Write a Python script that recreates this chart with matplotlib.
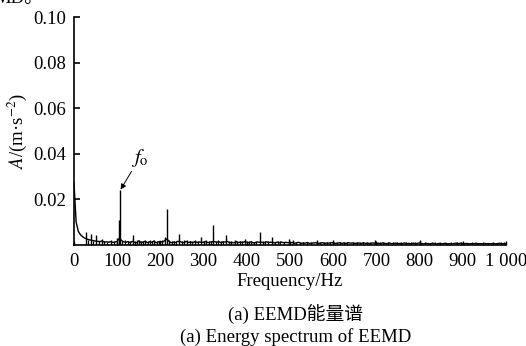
import matplotlib
matplotlib.use("Agg")
import matplotlib.pyplot as plt
import numpy as np

plt.rcParams['font.family'] = ['Liberation Serif', 'Noto Sans CJK SC', 'DejaVu Sans']
plt.rcParams['mathtext.fontset'] = 'stix'
plt.rcParams['font.size'] = 13.5

# Background spectrum, 5 Hz steps, amplitudes in 1e-3 m/s^2 (0,5,...,1000 Hz)
freq_step = 5
base_milli = [
    27.0, 10.0, 6.0, 4.5, 3.6, 3.0, 2.6, 2.3, 2.1, 1.9,     # 0-45
    1.7, 1.6, 1.5, 1.8, 1.3, 1.4, 1.2, 1.5, 1.1, 1.3,       # 50-95
    1.6, 3.0, 2.0, 1.4, 1.2, 1.5, 1.0, 1.6, 1.2, 1.0,       # 100-145
    1.8, 1.1, 1.3, 1.6, 1.0, 1.4, 1.2, 1.7, 1.0, 1.3,       # 150-195
    1.6, 1.2, 2.0, 2.6, 1.6, 1.0, 1.3, 1.1, 1.6, 1.5,       # 200-245
    1.2, 1.0, 1.6, 1.1, 1.4, 1.0, 1.5, 1.1, 1.3, 1.2,       # 250-295
    1.2, 1.6, 1.0, 1.3, 1.4, 1.5, 1.2, 1.5, 1.0, 1.4,       # 300-345
    1.3, 1.6, 1.0, 1.2, 0.9, 1.5, 1.0, 1.3, 1.1, 1.4,       # 350-395
    1.2, 1.0, 1.4, 0.9, 1.1, 1.3, 1.2, 1.2, 1.0, 1.4,       # 400-445
    1.1, 1.2, 1.2, 0.9, 1.3, 1.0, 1.3, 1.0, 1.2, 1.0,       # 450-495
    1.0, 1.1, 0.8, 0.9, 1.2, 0.7, 0.9, 0.8, 1.1, 0.7,       # 500-545
    0.8, 0.9, 1.0, 0.7, 0.8, 1.0, 0.7, 0.9, 0.8, 1.0,       # 550-595
    1.0, 0.7, 0.8, 1.0, 0.7, 0.9, 0.7, 1.0, 0.8, 0.9,       # 600-645
    0.7, 0.8, 0.9, 0.6, 1.0, 0.7, 0.8, 0.6, 0.9, 0.8,       # 650-695
    0.7, 0.8, 0.6, 0.9, 0.7, 0.6, 0.9, 0.6, 0.7, 0.8,       # 700-745
    0.6, 0.7, 0.6, 0.9, 0.6, 0.7, 0.5, 0.8, 0.6, 0.7,       # 750-795
    0.9, 0.6, 0.5, 0.7, 0.6, 0.5, 0.8, 0.6, 0.5, 0.7,       # 800-845
    0.5, 0.6, 0.8, 0.5, 0.6, 0.5, 0.7, 0.8, 0.6, 0.8,       # 850-895
    0.5, 0.6, 0.7, 0.5, 0.6, 0.5, 0.8, 0.5, 0.6, 0.5,       # 900-945
    0.7, 0.5, 0.6, 0.5, 0.7, 0.5, 0.6, 0.8, 0.5, 0.6,       # 950-995
    0.6,                                                    # 1000
]
base = np.array(base_milli) * 1e-3
freq = np.arange(len(base)) * freq_step

# Main spectral lines: frequency (Hz), amplitude (1e-3 m/s^2)
peak_freq = [28, 39, 51, 64, 85, 100, 104, 107, 136, 150, 165, 185, 210, 215,
             243, 262, 280, 294, 322, 352, 372, 396, 430, 458, 498, 507,
             562, 600, 646, 697, 768, 801, 886, 896, 988]
peak_milli = [5.5, 5.0, 4.3, 2.6, 2.2, 3.0, 11.0, 24.3, 4.3, 2.0, 2.2, 2.4, 3.6, 15.7,
              4.8, 2.2, 2.4, 3.5, 8.7, 4.3, 2.2, 2.8, 5.7, 3.5, 2.6, 2.2,
              2.0, 2.0, 1.5, 2.0, 1.3, 2.0, 1.5, 1.5, 1.3]

# Small dense spikes of the noise floor
small_freq = [33, 44, 57, 70, 77, 92, 112, 118, 124, 129, 142, 146, 155, 159,
              171, 176, 181, 191, 197, 203, 221, 226, 232, 237, 249, 254,
              268, 273, 286, 300, 306, 312, 317, 328, 334, 340, 346, 358,
              364, 378, 384, 390, 404, 410, 416, 422, 437, 443, 450, 465,
              472, 478, 486, 515, 523, 531, 540, 548, 570, 578, 586, 592,
              608, 616, 624, 632, 655, 662, 670, 678, 686, 708, 716, 726,
              738, 748, 758, 780, 790, 812, 824, 836, 848, 860, 872, 910,
              922, 934, 946, 958, 970, 980, 996]
small_milli = [2.0, 1.8, 1.6, 1.9, 1.5, 1.6, 1.8, 2.0, 1.6, 1.9, 1.7, 2.1, 1.6, 1.8,
               1.7, 2.0, 1.6, 1.8, 1.7, 2.0, 2.2, 1.6, 1.9, 1.8, 1.7, 2.1,
               1.6, 1.9, 1.7, 1.8, 2.0, 1.6, 1.9, 1.7, 2.1, 1.6, 1.8, 1.7,
               1.9, 1.6, 1.8, 1.6, 1.7, 1.9, 1.5, 1.7, 1.8, 1.6, 1.7, 1.5,
               1.7, 1.6, 1.5, 1.4, 1.5, 1.3, 1.4, 1.3, 1.4, 1.3, 1.5, 1.3,
               1.4, 1.3, 1.5, 1.2, 1.3, 1.4, 1.2, 1.5, 1.3, 1.2, 1.3, 1.2,
               1.1, 1.2, 1.1, 1.2, 1.1, 1.2, 1.0, 1.1, 1.2, 1.0, 1.1, 1.0,
               1.1, 1.0, 1.1, 1.0, 1.1, 1.0, 1.1]

peak_amp = np.array(peak_milli) * 1e-3
small_amp = np.array(small_milli) * 1e-3

y_ticks = [0.02, 0.04, 0.06, 0.08, 0.10]
x_ticks = [0, 100, 200, 300, 400, 500, 600, 700, 800, 900, 1000]
x_tick_labels = ['0', '100', '200', '300', '400', '500', '600', '700', '800', '900', '1 000']

fig = plt.figure(figsize=(5.26, 3.46), dpi=100)
ax = fig.add_axes([74/526, 1 - 245/346, 432/526, 228/346])
ax.plot(freq, base, color='black', lw=1.0)
ax.vlines(small_freq, 0, small_amp, color='black', lw=0.9)
ax.vlines(peak_freq, 0, peak_amp, color='black', lw=1.0)
ax.set_xlim(0, 1000)
ax.set_ylim(0, 0.10)
ax.set_yticks(y_ticks)
ax.set_yticklabels([f'{v:.2f}' for v in y_ticks])
ax.set_xticks(x_ticks)
ax.set_xticklabels(x_tick_labels)
for s in ['top', 'right']:
    ax.spines[s].set_visible(False)
for s in ['left', 'bottom']:
    ax.spines[s].set_linewidth(1.2)
ax.tick_params(axis='y', direction='in', length=4, width=1.2, pad=6)
ax.tick_params(axis='x', direction='in', length=3, width=1.0, pad=6)

ax.set_xlabel('Frequency/Hz', labelpad=2)
ax.set_ylabel(r'$A$/(m·s$^{-2}$)', labelpad=3)

ax.annotate(r'$f_{\mathrm{o}}$', xy=(108, 0.0243), xytext=(152, 0.0335),
            fontsize=15, ha='center', va='bottom',
            arrowprops=dict(arrowstyle='-|>', color='black', lw=0.7,
                            mutation_scale=8, shrinkA=0, shrinkB=0))

fig.text(296/526, 1 - 315/346, '(a) EEMD能量谱', ha='center', va='center')
fig.text(296/526, 1 - 337/346, '(a) Energy spectrum of EEMD', ha='center', va='center')
fig.text(-0.01, 1 - 3/346, 'MD。', ha='left', va='baseline')

fig.savefig('out.png', dpi=100)
